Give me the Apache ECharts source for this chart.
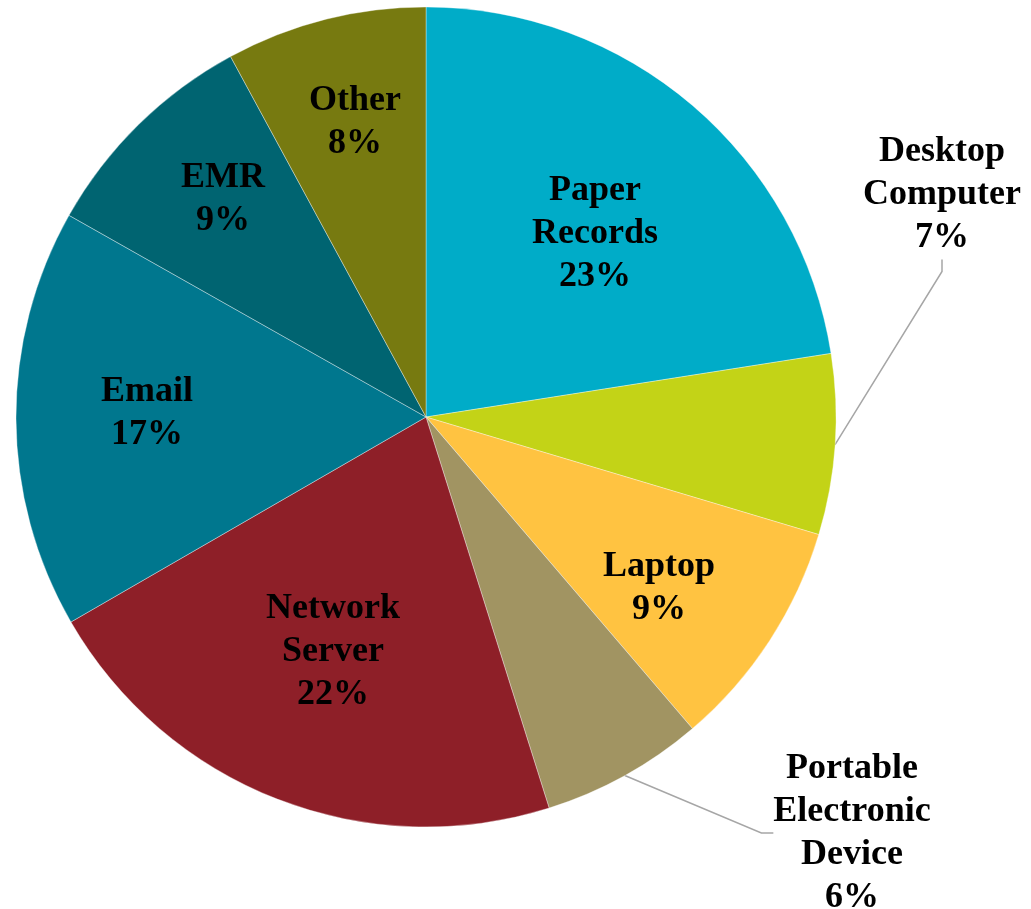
<!DOCTYPE html>
<html><head><meta charset="utf-8">
<script src="https://cdn.jsdelivr.net/npm/echarts@6/dist/echarts.min.js"></script>
<style>html,body{margin:0;padding:0;background:#fff}#c{width:1031px;height:909px}</style>
</head><body><div id="c"></div>
<script>
const categories = ['Paper\nRecords', 'Desktop\nComputer', 'Laptop', 'Portable\nElectronic\nDevice', 'Network\nServer', 'Email', 'EMR', 'Other'];
const values = [22.5, 7.1, 9.1, 6.4, 21.5, 16.5, 8.9, 7.9];
const colors = ['#00ACC8', '#C3D317', '#FFC341', '#A19462', '#8E1F28', '#00778E', '#006471', '#777A10'];
const labelCenters = [[595, 234], [942, 195], [659, 588], [852, 833], [333, 652], [147, 413], [223, 199], [355, 122]];
const hasLeader = [false, true, false, true, false, false, false, false];

const chart = echarts.init(document.getElementById('c'), null, {renderer: 'canvas'});
chart.setOption({
  animation: false,
  backgroundColor: '#fff',
  series: [{
    type: 'pie',
    center: [426, 417],
    radius: [0, 410],
    startAngle: 90,
    clockwise: true,
    avoidLabelOverlap: false,
    itemStyle: {borderColor: 'rgba(255,255,255,0.6)', borderWidth: 0.6},
    label: {
      show: true,
      position: 'outside',
      formatter: p => p.name + '\n' + Math.round(p.percent) + '%',
      fontFamily: 'Liberation Serif',
      fontWeight: 'bold',
      fontSize: 36,
      lineHeight: 43,
      color: '#000',
      align: 'center'
    },
    labelLine: {show: false},
    labelLayout: p => {
      const c = labelCenters[p.dataIndex];
      return {x: c[0], y: c[1], align: 'center', verticalAlign: 'middle'};
    },
    data: categories.map((n, i) => ({
      name: n,
      value: values[i],
      itemStyle: {color: colors[i]},
      labelLine: {show: hasLeader[i], length: 20, length2: 12, lineStyle: {color: '#A6A6A6', width: 1.5}}
    }))
  }]
});
</script></body></html>
